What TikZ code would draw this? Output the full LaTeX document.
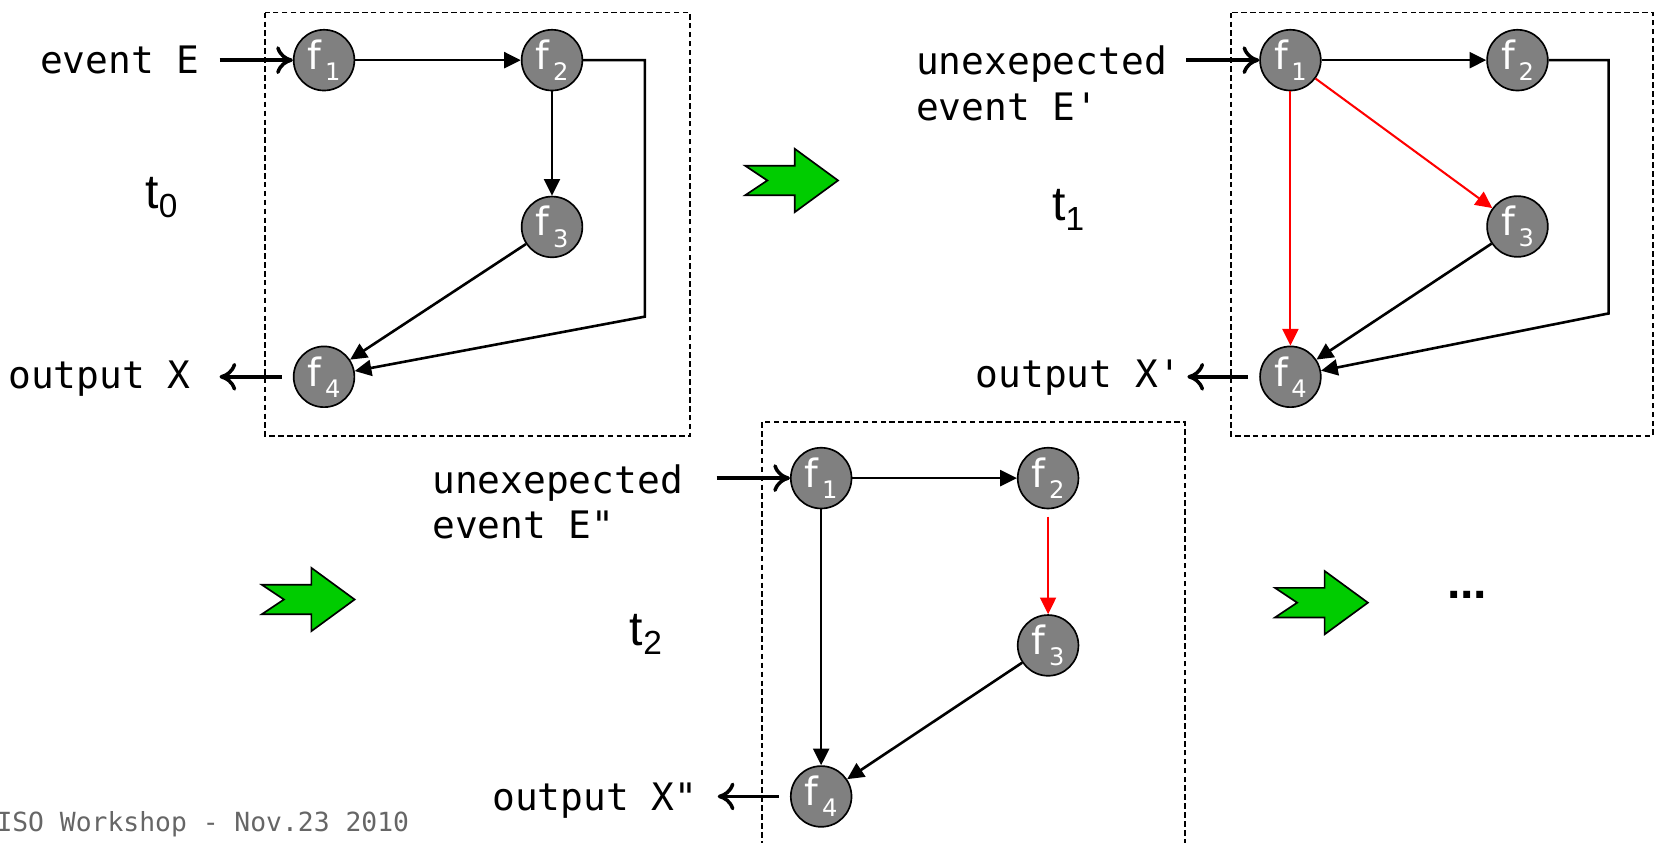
\documentclass[tikz,border=0pt]{standalone}
\usepackage{fontspec}
\setmonofont{DejaVu Sans Mono}
\newfontfamily\nodefont{DejaVu Sans}
\newfontfamily\timefont{Liberation Sans}
\usetikzlibrary{arrows.meta}

\definecolor{nodegray}{RGB}{128,128,128}
\definecolor{stepgreen}{RGB}{0,204,0}
\definecolor{footgray}{RGB}{102,102,102}

\newcommand{\fname}[1]{\fontsize{10.5}{10.5}\selectfont f\kern1pt\raisebox{-3pt}{\fontsize{6.5}{6.5}\selectfont #1}}
\newcommand{\tname}[1]{\fontsize{13}{13}\selectfont t\raisebox{-2.5pt}{\fontsize{9}{9}\selectfont #1}}

\begin{document}
\begin{tikzpicture}[x=0.01cm,y=-0.01cm,
    fnode/.style={circle,draw,line width=0.45pt,fill=nodegray,text=white,minimum size=0.575cm,inner sep=0pt,font=\nodefont},
    flow/.style={-{Triangle[length=4.5pt,width=4.3pt]},line width=0.7pt},
    changed/.style={flow,red,line width=0.55pt},
    io/.style={-{Computer Modern Rightarrow[length=4.5pt,width=7.5pt]},line width=0.95pt},
    frame/.style={dashed,dash pattern=on 1.5pt off 0.9pt,line width=0.45pt},
    lbl/.style={inner sep=0pt,font=\ttfamily\fontsize{10.2}{12.3}\selectfont,align=left},
    tlbl/.style={inner sep=0pt,font=\timefont},
    nextarrow/.pic={\filldraw[fill=stepgreen,line width=0.45pt,line join=miter]
        (0,-14) -- (21,0) -- (0,14) -- (47,14) -- (47,30) -- (88,0) -- (47,-30) -- (47,-14) -- cycle;}]

    \useasboundingbox (0,0) rectangle (1568,798);

    % t0
    \draw[frame] (251,12) rectangle (654,413);
    \node[fnode]         (a1) at (307, 57)       {\fname{1}};
    \node[fnode]         (a2) at (523, 57)       {\fname{2}};
    \node[fnode]         (a3) at (523, 215)      {\fname{3}};
    \node[fnode]         (a4) at (307, 357)      {\fname{4}};
    \coordinate          (a5) at (611, 300);
    \coordinate          (ina) at (208, 57);
    \coordinate          (outa) at (208, 357);
    \node[lbl,anchor=base west] (evta) at (37.3, 69.5) {event E};
    \node[lbl,anchor=base west] (outxa) at (7.2, 368) {output X};
    \node[tlbl]          (ta) at (153, 187)      {\tname{0}};

    \draw (ina) edge[io] (a1);
    \draw (a4) edge[io,shorten <=3pt] (outa);
    \draw (a1) edge[flow] (a2);
    \draw (a2) edge[flow] (a3);
    \draw (a3) edge[flow] (a4);
    \draw[flow] (a2) -| (a5) -- (a4);

    % t1
    \draw[frame] (1166,12) rectangle (1566,413);
    \node[fnode]         (b1) at (1222.6, 57)    {\fname{1}};
    \node[fnode]         (b2) at (1437.7, 57)    {\fname{2}};
    \node[fnode]         (b3) at (1437.7, 214.6) {\fname{3}};
    \node[fnode]         (b4) at (1222.6, 357)   {\fname{4}};
    \coordinate          (b5) at (1524, 297);
    \coordinate          (inb) at (1124, 57);
    \coordinate          (outb) at (1125, 357);
    \node[lbl,anchor=north west] (evtb) at (867.3, 42.5) {unexepected\\event E'};
    \node[lbl,anchor=base west] (outxb) at (923.8, 367) {output X'};
    \node[tlbl]          (tb) at (1012, 199)     {\tname{1}};

    \draw (inb) edge[io] (b1);
    \draw (b4) edge[io,shorten <=3pt] (outb);
    \draw (b1) edge[flow] (b2);
    \draw (b1) edge[changed] (b3);
    \draw (b1) edge[changed] (b4);
    \draw (b3) edge[flow] (b4);
    \draw[flow] (b2) -| (b5) -- (b4);

    % t2
    \draw[frame] (722,400) rectangle (1123,830);
    \node[fnode]         (c1) at (778, 453)      {\fname{1}};
    \node[fnode]         (c2) at (993, 453)      {\fname{2}};
    \node[fnode]         (c3) at (993, 611.5)    {\fname{3}};
    \node[fnode]         (c4) at (778, 754.6)    {\fname{4}};
    \coordinate          (inc) at (679, 453);
    \coordinate          (outc) at (680, 754.6);
    \node[lbl,anchor=north west] (evtc) at (408.8, 439.3) {unexepected\\event E"};
    \node[lbl,anchor=base west] (outxc) at (465.8, 768) {output X"};
    \node[tlbl]          (tc) at (612, 601)      {\tname{2}};

    \draw (inc) edge[io] (c1);
    \draw (c4) edge[io,shorten <=3pt] (outc);
    \draw (c1) edge[flow] (c2);
    \draw (c2) edge[changed,shorten <=2pt] (c3);
    \draw (c1) edge[flow] (c4);
    \draw (c3) edge[flow] (c4);

    % steps in time
    \pic at (706, 171)  {nextarrow};
    \pic at (248, 568)  {nextarrow};
    \pic at (1208, 571) {nextarrow};
    \node[inner sep=0pt,font=\timefont\bfseries\fontsize{13}{13}\selectfont] (more) at (1390, 564) {...};

    \node[inner sep=0pt,anchor=base west,text=footgray,font=\ttfamily\fontsize{7.1}{7.1}\selectfont] (foot) at (-4, 788) {ISO Workshop - Nov.23 2010};
\end{tikzpicture}
\end{document}
